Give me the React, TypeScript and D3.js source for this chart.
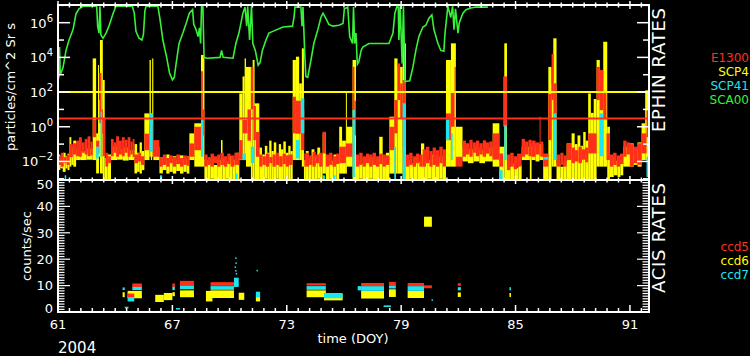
import React from "react";
import * as d3 from "d3";

// ---------- data ----------
// time axis (day of year 2004)
const xTickLabels = [61, 67, 73, 79, 85, 91];
const topExpLabels = [-2, 0, 2, 4, 6];
const botTickLabels = [0, 10, 20, 30, 40, 50];

// EPHIN threshold lines (particles/cm2 Sr s)
const yellowLimit = 100;
const redLimit = 3;

// EPHIN bands: [startDay, log10 low, log10 high] (step, holds until next day)
const e1300Log = [
  [61.0, -2.2, -1.7], [61.15, -2.3, -1.5], [61.3, -2.1, -1.75], [61.45, -2.2, -1.6],
  [61.6, -1.75, -1.0], [61.78, -1.6, -0.95],
  [61.95, -1.7, -0.8], [62.1, -1.73, -0.6], [62.25, -1.5, -0.9], [62.4, -1.6, -0.7], [62.55, -1.7, -0.55], [62.7, -1.65, -0.85],
  [62.82, -0.6, 0.4], [63.0, -1.55, -0.8], [63.17, 0.2, 3.1], [63.28, -0.4, 1.0], [63.35, -1.7, 0.5],
  [63.49, -2.3, -1.5], [63.63, -2.1, -1.7],
  [63.78, -1.7, -0.7], [63.92, -1.5, -0.9], [64.05, -1.73, -0.55], [64.2, -1.6, -0.8], [64.35, -1.7, -0.6],
  [64.5, -1.5, -0.75], [64.65, -1.73, -0.6], [64.8, -1.6, -0.85], [64.92, -1.75, -0.7],
  [65.01, -2.1, -1.6], [65.2, -2.0, -1.5], [65.35, -2.2, -1.7],
  [65.53, -1.35, -0.4], [65.8, -1.4, 0.2], [65.97, -1.73, -0.77],
  [66.32, -2.3, -1.75], [66.5, -2.2, -1.6], [66.68, -2.3, -1.8], [66.85, -2.1, -1.65], [67.02, -2.3, -1.75],
  [67.2, -2.15, -1.6], [67.4, -2.3, -1.8], [67.58, -2.2, -1.65], [67.75, -2.25, -1.7],
  [67.89, -1.73, -0.96], [68.15, -1.35, 0.0], [68.5, 0.4, 3.2], [68.6, -0.5, 1.0],
  [68.68, -2.3, -1.6], [68.85, -2.2, -1.75], [69.0, -2.3, -1.55], [69.18, -2.1, -1.7], [69.35, -2.3, -1.6],
  [69.52, -2.2, -1.5], [69.7, -2.3, -1.7], [69.88, -2.15, -1.55], [70.05, -2.3, -1.65], [70.25, -2.2, -1.5],
  [70.51, -1.9, -0.77], [70.68, -0.38, 0.39], [70.94, -0.8, 1.0], [71.12, 1.0, 3.45], [71.25, -0.77, 1.2],
  [71.38, -1.73, -0.3],
  [71.56, -2.3, -1.6], [71.73, -2.2, -1.7], [71.9, -2.3, -1.55], [72.08, -2.1, -1.75], [72.25, -2.3, -1.6],
  [72.42, -2.2, -1.5], [72.6, -2.3, -1.7], [72.78, -2.15, -1.55], [72.95, -2.3, -1.65], [73.12, -2.2, -1.6],
  [73.31, -0.38, 1.73], [73.48, -0.4, 1.5], [73.74, -1.35, 0.96], [73.92, -2.3, -1.54],
  [74.0, -2.3, -1.5], [74.17, -2.2, -1.65], [74.35, -2.3, -1.45], [74.52, -2.1, -1.6], [74.7, -2.3, -1.5],
  [74.88, -1.54, -0.29],
  [75.05, -2.3, -1.6], [75.22, -2.2, -1.5], [75.4, -2.3, -1.7], [75.58, -2.15, -1.55],
  [75.75, -2.1, -1.15], [76.1, -1.73, -0.96], [76.45, 0.96, 3.45], [76.55, -0.5, 1.5],
  [76.63, -2.3, -1.6], [76.8, -2.2, -1.5], [76.98, -2.3, -1.7], [77.15, -2.1, -1.55], [77.32, -2.3, -1.6],
  [77.5, -2.2, -1.5], [77.68, -2.3, -1.7], [77.85, -2.15, -1.55], [78.02, -2.3, -1.6], [78.2, -2.2, -1.65],
  [78.38, -1.35, 0.0], [78.64, -0.38, 1.54], [78.81, 1.54, 3.65], [78.95, 0.5, 2.5], [79.08, -1.15, 2.7],
  [79.25, -2.3, -1.6], [79.42, -2.2, -1.5], [79.6, -2.3, -1.7], [79.78, -2.1, -1.55], [79.95, -2.3, -1.6],
  [80.13, -2.3, -1.3], [80.3, -2.1, -1.15], [80.48, -2.3, -1.4], [80.65, -2.2, -1.2], [80.82, -2.3, -1.35],
  [81.0, -2.1, -1.15], [81.18, -2.3, -1.3],
  [81.35, -0.77, 0.77], [81.61, 0.0, 2.0], [81.8, 2.0, 3.45], [81.87, -2.3, -1.73],
  [82.22, -1.73, -0.8], [82.4, -1.6, -0.95], [82.58, -1.73, -0.75], [82.75, -1.5, -0.9], [82.92, -1.7, -0.8],
  [83.1, -1.6, -0.95], [83.28, -1.73, -0.78], [83.45, -1.55, -0.9], [83.62, -1.7, -0.85],
  [83.8, -1.9, -0.38], [84.15, -2.3, -1.54], [84.35, 0.0, 2.9],
  [84.55, -2.5, -1.6], [84.72, -2.3, -1.5], [84.9, -2.45, -1.7], [85.08, -2.3, -1.55],
  [85.32, -1.73, -0.7], [85.5, -1.6, -0.85], [85.68, -1.7, -0.75],
  [85.84, -1.73, -0.8], [86.05, -1.6, -0.9], [86.26, -1.7, 0.58], [86.31, -1.73, -0.85],
  [86.45, -2.3, -1.54], [86.72, -0.77, 1.9], [86.89, 1.54, 4.2], [87.0, 0.5, 2.5],
  [87.15, -2.3, -1.6], [87.35, -2.2, -1.5], [87.52, -2.3, -1.65],
  [87.68, -1.92, -0.96],
  [87.94, -2.1, -1.2], [88.12, -2.0, -1.35], [88.3, -2.1, -1.15], [88.48, -1.9, -1.3], [88.65, -2.05, -1.2],
  [88.81, -1.54, -0.38], [89.25, 1.54, 3.45], [89.42, 0.96, 3.27], [89.6, 0.5, 2.0], [89.77, -1.92, -0.38],
  [89.95, -2.3, -1.6], [90.12, -2.2, -1.5], [90.3, -2.3, -1.65], [90.48, -2.15, -1.55],
  [90.65, -1.73, -0.8], [90.82, -1.6, -0.9],
  [91.0, -2.3, -1.0], [91.2, -2.1, -1.15], [91.4, -2.2, -0.95],
  [91.61, -1.54, -0.38], [91.87, -0.6, 0.96], [92.0, null, null],
];

const scp4Log = [
  [61.0, -2.5, -1.6], [61.12, -2.4, -1.75], [61.25, -2.6, -1.5], [61.4, -2.4, -1.7], [61.5, -2.5, -1.55],
  [61.6, -2.3, -0.6], [61.7, -2.2, -1.2], [61.8, -2.3, -0.8],
  [61.95, -1.92, -1.3], [62.2, -1.92, -1.4], [62.5, -1.9, -1.25],
  [62.82, -1.92, 3.94], [63.0, -2.69, -0.38], [63.1, -2.69, 3.56], [63.15, -1.73, 1.54], [63.2, -2.69, 5.0],
  [63.35, -3.1, 2.7], [63.45, -3.1, -1.8], [63.6, -3.1, -1.6],
  [63.78, -1.92, -1.15], [64.1, -1.9, -1.3], [64.4, -1.95, -1.2], [64.7, -1.92, -1.35],
  [65.01, -2.69, -1.0], [65.15, -2.6, -1.5], [65.28, -2.7, -0.9], [65.4, -2.5, -1.4],
  [65.53, -1.92, 0.77], [65.8, -1.73, 3.85], [65.87, -1.92, 0.77], [65.94, -1.73, 3.94], [66.0, -1.92, -1.15],
  [66.32, -2.69, -1.75], [66.5, -2.5, -1.9], [66.68, -2.7, -1.6], [66.85, -2.6, -1.85], [67.02, -2.7, -1.7],
  [67.2, -2.55, -1.9], [67.4, -2.7, -1.65], [67.58, -2.6, -1.85], [67.75, -2.7, -1.7],
  [67.89, -1.92, -0.38], [68.15, -2.3, 0.2], [68.5, -2.3, 4.14],
  [68.68, -3.1, -1.9], [68.85, -3.1, -2.1], [69.0, -3.0, -1.8], [69.18, -3.1, -2.2], [69.35, -3.1, -1.9],
  [69.55, -3.1, -0.77], [69.63, -3.1, -1.8], [69.8, -3.0, -2.0], [69.98, -3.1, -1.7], [70.15, -3.1, -1.9],
  [70.32, -3.1, -1.5],
  [70.51, -1.92, 1.92], [70.68, -1.92, 2.9], [70.79, -1.92, 3.94], [70.86, -2.3, 3.45], [71.12, -3.1, 1.54],
  [71.21, -3.1, 3.85], [71.31, -3.1, 1.35],
  [71.56, -3.1, -1.2], [71.7, -3.1, -1.6], [71.85, -3.0, -1.1], [71.98, -3.1, -1.5],
  [72.08, -3.1, -0.8], [72.2, -3.1, -1.4], [72.32, -3.1, -0.9], [72.45, -3.0, -1.6], [72.58, -3.1, -1.0],
  [72.7, -3.1, -1.3], [72.82, -3.1, -0.85], [72.95, -3.0, -1.5], [73.08, -3.1, -1.1], [73.2, -3.1, -1.4],
  [73.31, -1.92, 3.85], [73.48, -1.92, 4.04], [73.65, -1.92, 2.5], [73.79, -2.3, 4.52], [73.9, -3.1, -1.92],
  [74.0, -3.1, -1.4], [74.15, -3.0, -1.8], [74.3, -3.1, -1.3], [74.45, -3.1, -1.7], [74.6, -3.0, -1.2],
  [74.75, -3.1, -1.6],
  [74.88, -2.7, -0.38],
  [75.05, -3.1, -1.75], [75.25, -3.0, -1.95], [75.45, -3.1, -1.6], [75.6, -3.1, -1.85],
  [75.75, -2.7, 0.0], [75.9, -2.7, -0.8], [76.1, -2.7, 2.0], [76.14, -2.3, 0.0], [76.45, -3.1, 3.85],
  [76.63, -3.1, -1.9], [76.8, -3.0, -2.1], [76.98, -3.1, -1.8], [77.15, -3.1, -2.05], [77.32, -3.0, -1.75],
  [77.5, -3.1, -1.95], [77.68, -3.1, -1.8],
  [77.85, -3.1, -0.58], [78.03, -3.1, -1.75], [78.2, -3.1, -1.5],
  [78.38, -2.7, 0.58], [78.64, -2.7, 3.94], [78.81, -2.7, 3.45], [79.08, -3.1, 4.81],
  [79.25, -3.1, -1.9], [79.45, -3.0, -2.1], [79.65, -3.1, -1.8], [79.85, -3.1, -2.0],
  [80.04, -3.1, -0.96],
  [80.21, -3.1, -1.75], [80.4, -3.0, -1.9], [80.6, -3.1, -1.6], [80.8, -3.1, -1.85], [81.0, -3.0, -1.7],
  [81.18, -3.1, -1.9],
  [81.35, -2.3, 3.85], [81.61, -2.3, 4.81], [81.87, -1.92, 0.0],
  [82.22, -2.0, -1.2], [82.5, -2.1, -1.3], [82.8, -2.0, -1.15], [83.1, -2.1, -1.35], [83.4, -2.0, -1.2],
  [83.8, -2.3, 0.2], [84.15, -3.1, -1.15], [84.41, -3.1, 4.81],
  [84.55, -3.1, -2.3], [84.75, -3.1, -2.1], [84.95, -3.1, -2.35], [85.15, -3.1, -2.2],
  [85.32, -1.92, -1.15], [85.75, -3.1, -1.15],
  [85.84, -1.92, -0.96], [86.05, -2.0, -1.2], [86.25, -1.92, -1.0],
  [86.45, -3.1, -1.73], [86.72, -3.1, 3.45], [86.89, -2.3, 2.5], [86.98, -2.3, 5.1],
  [87.15, -3.1, -2.1], [87.35, -3.1, -2.3], [87.52, -3.1, -2.0],
  [87.68, -3.1, -0.96],
  [87.94, -3.1, -0.38], [88.1, -3.1, -1.0], [88.25, -3.1, -0.5], [88.4, -3.1, -1.1], [88.55, -3.1, -0.3],
  [88.68, -3.1, -0.8],
  [88.81, -3.1, 1.92], [88.95, -3.1, 0.8], [89.1, -3.1, 1.6],
  [89.25, -2.3, 3.85], [89.42, -2.3, 2.9], [89.6, -2.3, 4.9], [89.81, -3.1, 0.0],
  [89.95, -2.9, -1.73], [90.15, -2.8, -1.95], [90.35, -2.9, -1.7], [90.5, -2.8, -1.9],
  [90.65, -2.3, -1.15],
  [91.0, -2.3, -0.96], [91.2, -2.2, -1.3], [91.4, -2.3, -0.9],
  [91.61, -1.92, 0.2], [91.8, -1.92, 2.1], [91.96, -1.92, 0.58], [92.0, null, null],
];

const scp41Log = [
  [61.0, -3.1, -2.7], [61.05, null, null], [61.35, -3.1, -2.8], [61.43, null, null], [63.0, -1.83, -1.15],
  [63.14, null, null], [63.23, -1.73, 0.87], [63.31, null, null], [65.8, -1.44, 0.77], [65.97, null, null],
  [66.35, -3.1, -2.8], [66.46, null, null], [68.5, -1.73, 0.39], [68.63, null, null], [70.33, -3.1, -2.7],
  [70.42, null, null], [70.68, -1.92, -1.54], [70.86, null, null], [71.12, -2.1, -1.15], [71.3, null, null],
  [73.48, -1.83, -0.77], [73.69, null, null], [73.74, -0.38, 1.64], [73.92, null, null], [74.9, -3.1, -2.8],
  [75.0, null, null], [75.45, -3.1, -2.8], [75.55, null, null], [76.45, -2.9, 0.96], [76.57, null, null],
  [78.64, -3.1, -1.15], [78.73, null, null], [79.08, -3.1, 1.35], [79.25, null, null], [81.35, -0.77, 0.39],
  [81.52, null, null], [81.61, -1.92, -0.38], [81.7, null, null], [84.15, -3.1, -2.5], [84.32, null, null],
  [84.41, -1.92, 0.1], [84.53, null, null], [86.45, -1.9, -1.75], [86.72, null, null], [86.98, -1.92, 0.77],
  [87.15, null, null], [89.42, -1.7, 0.77], [89.6, null, null], [91.87, -2.9, -1.73], [92.0, null, null],
];

// SCA00: [day, log10 rate]
const sca00Log = [
  [61.0, 2.7], [61.05, 2.9], [61.08, 4.6], [61.12, 3.0], [61.26, 3.4], [61.42, 4.4], [61.58, 5.0], [61.79, 5.6],
  [61.94, 6.5], [62.1, 6.8], [62.31, 6.95], [63.03, 6.95], [63.08, 5.8], [63.15, 5.4], [63.2, 6.95], [63.25, 5.3],
  [63.36, 5.1], [63.52, 5.4], [63.67, 5.8], [63.88, 6.5], [64.04, 6.95], [64.9, 6.95], [65.0, 6.55], [65.09, 5.5],
  [65.25, 5.1], [65.4, 5.0], [65.48, 5.3], [65.56, 6.7], [65.62, 6.95], [66.24, 6.95], [66.35, 6.2], [66.5, 5.0],
  [66.7, 4.0], [66.85, 3.1], [67.0, 2.7], [67.1, 2.85], [67.19, 3.6], [67.35, 4.8], [67.55, 5.4], [67.72, 5.95],
  [67.89, 6.55], [68.06, 6.75], [68.12, 5.9], [68.24, 5.6], [68.35, 5.2], [68.42, 5.7], [68.48, 4.8], [68.53, 6.95],
  [68.6, 6.95], [68.66, 4.0], [68.8, 3.95], [69.5, 4.0], [69.58, 4.4], [69.66, 4.0], [70.18, 3.95], [70.33, 4.8],
  [70.49, 5.4], [70.7, 6.55], [70.81, 6.9], [70.9, 5.8], [70.95, 6.95], [71.05, 5.0], [71.15, 6.95], [71.22, 4.8],
  [71.35, 4.4], [71.5, 3.55], [71.6, 3.7], [71.72, 4.4], [71.91, 5.0], [72.06, 5.4], [72.27, 5.5], [72.8, 5.75],
  [73.3, 5.8], [73.38, 6.3], [73.43, 6.9], [73.74, 6.9], [73.8, 5.8], [73.85, 6.9], [73.95, 4.0], [74.0, 2.9],
  [74.1, 2.85], [74.27, 3.85], [74.42, 4.8], [74.63, 5.6], [74.79, 6.3], [74.9, 6.55], [75.05, 6.25], [75.21, 5.9],
  [75.42, 5.8], [75.74, 5.85], [75.95, 5.95], [76.02, 6.8], [76.2, 6.9], [76.3, 5.2], [76.45, 4.8], [76.5, 6.9],
  [76.56, 4.8], [76.63, 5.4], [76.7, 3.6], [76.78, 3.75], [76.9, 4.4], [76.99, 4.6], [77.31, 4.8], [78.36, 4.8],
  [78.57, 5.4], [78.67, 6.55], [78.78, 6.95], [78.85, 6.9], [78.88, 5.0], [78.95, 6.95], [79.05, 3.65], [79.12, 6.95],
  [79.2, 2.6], [79.45, 2.65], [79.62, 3.45], [79.77, 4.4], [79.93, 5.2], [80.14, 5.75], [80.3, 5.85], [80.45, 6.25],
  [80.61, 6.45], [80.72, 5.6], [80.93, 4.8], [81.08, 4.4], [81.24, 4.35], [81.3, 5.4], [81.45, 6.95], [81.6, 6.3],
  [81.7, 6.95], [81.77, 5.6], [81.85, 6.8], [81.98, 5.4], [82.05, 6.0], [82.24, 6.55], [82.4, 6.75], [82.66, 6.85],
  [82.92, 6.9], [83.55, 6.9],
];

// ACIS clusters: [startDay, endDay, low, high] counts/sec
const ccd5 = [
  [64.65, 65.0, 5.6, 7.0], [64.9, 65.4, 9.5, 10.8], [67.0, 67.13, 9.5, 10.8], [67.4, 68.13, 10.2, 11.8],
  [69.0, 70.23, 9.9, 11.3], [74.04, 75.05, 10.0, 10.9], [76.9, 78.1, 9.8, 11.0], [78.36, 78.72, 10.1, 11.4],
  [79.34, 80.2, 9.8, 11.0], [80.2, 80.61, 9.0, 10.1], [81.97, 82.13, 9.9, 10.9],
  [71.5, 71.62, 0, 0.4], [75.09, 75.88, 0, 0.4],
];
const ccd6 = [
  [64.39, 64.5, 5.6, 7.5], [64.65, 65.4, 5.2, 8.0], [66.1, 66.55, 3.8, 6.5], [66.55, 67.0, 4.5, 7.2],
  [67.0, 67.13, 6.0, 7.5], [67.4, 68.13, 5.6, 8.2], [68.76, 69.1, 4.0, 8.0], [69.0, 70.23, 5.3, 8.2],
  [70.48, 70.77, 4.6, 7.3], [71.38, 71.6, 4.0, 6.5], [74.04, 75.05, 5.6, 8.2], [74.95, 75.93, 4.4, 6.8],
  [76.9, 78.1, 5.1, 8.0], [78.36, 78.72, 5.7, 8.6], [79.34, 80.2, 5.3, 8.0], [80.2, 80.61, 32.3, 36.1],
  [81.97, 82.13, 5.7, 7.4], [84.68, 84.74, 5.7, 7.2],
];
const ccd7 = [
  [64.39, 64.5, 8.3, 9.3], [64.5, 64.7, 1.4, 2.0], [64.65, 65.0, 4.0, 6.0], [64.9, 65.4, 8.3, 9.7],
  [67.0, 67.13, 8.3, 9.7], [67.19, 67.4, 1.0, 1.5], [67.4, 68.13, 8.6, 10.1], [69.0, 70.23, 8.4, 9.8],
  [70.23, 70.48, 9.5, 13.0], [71.38, 71.6, 5.5, 7.7], [74.04, 75.05, 8.4, 9.8], [74.95, 75.93, 5.2, 7.2],
  [76.72, 76.9, 8.2, 9.8], [76.9, 78.1, 8.0, 9.8], [78.08, 78.46, 1.9, 2.5], [78.36, 78.72, 8.9, 10.1],
  [79.34, 80.2, 8.0, 9.8], [81.97, 82.13, 8.2, 9.4], [84.68, 84.74, 8.2, 9.4],
  [63.48, 64.39, 0, 0.4], [66.14, 67.0, 0, 0.4], [68.66, 69.0, 0, 0.4],
];
const ccd7Dots = [
  [70.33, 20.4], [70.34, 18.5], [70.3, 17.0], [70.33, 15.6], [70.36, 14.5], [71.45, 15.7], [80.63, 4.5],
];

// ---------- colours ----------
const RED = "#ff3018";
const YELLOW = "#ffff00";
const CYAN = "#1ee6f0";
const GREEN = "#38f038";
const WHITE = "#ffffff";
const FONT = "DejaVu Sans, sans-serif";

export default function App() {
  const x = d3.scaleLinear().domain([61, 92]).range([58, 649]);
  const yTop = d3.scaleLog().domain([Math.pow(10, -3.07), Math.pow(10, 7.02)]).range([180, 5]);
  const yBot = d3.scaleLinear().domain([0, 50]).range([312, 180]);
  const yl = (v: number) => yTop(Math.pow(10, v));

  const bandRects = (data: any[], color: string, key: string) => {
    const out: any[] = [];
    for (let i = 0; i < data.length - 1; i++) {
      const [d, lo, hi] = data[i];
      if (lo === null) continue;
      const xa = x(d);
      const xb = x(data[i + 1][0]);
      const ya = yl(hi);
      const yb = yl(lo);
      out.push(
        <rect key={key + i} x={xa} y={ya} width={Math.max(1, xb - xa)} height={Math.max(1, yb - ya)} fill={color} />
      );
    }
    return out;
  };

  const clusterRects = (data: any[], color: string, key: string) =>
    data.map((c, i) => {
      const [a, b, lo, hi] = c;
      return (
        <rect key={key + i} x={x(a)} y={yBot(hi)} width={Math.max(1.5, x(b) - x(a))}
          height={Math.max(1.5, yBot(lo) - yBot(hi))} fill={color} />
      );
    });

  const greenLine = d3.line<any>().x((d) => x(d[0])).y((d) => yl(d[1]))(sca00Log as any) || "";

  const minorX = d3.range(61, 92.001, 0.6);
  const majorX = xTickLabels;
  const decades = d3.range(-3, 8);
  const botMinor = d3.range(0, 51, 1);

  return (
    <svg width={750} height={356} style={{ position: "absolute", left: 0, top: 0, background: "#000" }}
      fontFamily={FONT}>
      <rect x={0} y={0} width={750} height={356} fill="#000" />
      <defs>
        <clipPath id="topClip"><rect x={58} y={5} width={591} height={175} /></clipPath>
        <clipPath id="botClip"><rect x={58} y={180} width={591} height={132} /></clipPath>
      </defs>

      {/* top panel data */}
      <g clipPath="url(#topClip)">
        {bandRects(scp4Log, YELLOW, "y")}
        {bandRects(e1300Log, RED, "r")}
        {bandRects(scp41Log, CYAN, "c")}
        <line x1={58} x2={649} y1={yTop(yellowLimit)} y2={yTop(yellowLimit)} stroke={YELLOW} strokeWidth={2} />
        <line x1={58} x2={649} y1={yTop(redLimit)} y2={yTop(redLimit)} stroke={RED} strokeWidth={2} />
        <path d={greenLine} fill="none" stroke={GREEN} strokeWidth={1.6} />
      </g>

      {/* bottom panel data */}
      <g clipPath="url(#botClip)">
        {clusterRects(ccd6, YELLOW, "b6")}
        {clusterRects(ccd7, CYAN, "b7")}
        {clusterRects(ccd5, RED, "b5")}
        {ccd7Dots.map((p, i) => (
          <rect key={"d" + i} x={x(p[0]) - 0.75} y={yBot(p[1]) - 0.75} width={1.5} height={1.5} fill={CYAN} />
        ))}
      </g>

      {/* frames */}
      <g stroke={WHITE} strokeWidth={2} fill="none">
        <rect x={58} y={5} width={591} height={175} />
        <rect x={58} y={180} width={591} height={132} />
      </g>

      {/* x ticks */}
      <g stroke={WHITE} strokeWidth={1.5}>
        {minorX.map((v, i) => {
          const isMajor = majorX.some((m) => Math.abs(m - v) < 1e-6);
          const xx = x(v);
          const a = isMajor ? 4 : 2.5;
          return (
            <g key={"xt" + i}>
              <line x1={xx} x2={xx} y1={5 - a} y2={5 + a} />
              <line x1={xx} x2={xx} y1={180 - a} y2={180 + a} />
              <line x1={xx} x2={xx} y1={312} y2={312 - (isMajor ? 7 : 4)} />
            </g>
          );
        })}
      </g>

      {/* top y ticks */}
      <g stroke={WHITE} strokeWidth={1.5}>
        {decades.map((e) => {
          const yy = yl(e);
          if (yy < 5 || yy > 180) return null;
          const len = e % 2 === 0 ? 12 : 6;
          return (
            <g key={"yt" + e}>
              <line x1={58} x2={58 + len} y1={yy} y2={yy} />
              <line x1={649 - len} x2={649} y1={yy} y2={yy} />
            </g>
          );
        })}
      </g>

      {/* bottom y ticks */}
      <g stroke={WHITE} strokeWidth={1.2}>
        {botMinor.map((v) => {
          const yy = yBot(v);
          const len = v % 10 === 0 ? 12 : 6.5;
          return (
            <g key={"bt" + v}>
              <line x1={58} x2={58 + len} y1={yy} y2={yy} />
              <line x1={649 - len} x2={649} y1={yy} y2={yy} />
            </g>
          );
        })}
      </g>

      {/* tick labels */}
      <g fill={WHITE} fontSize={13}>
        {topExpLabels.map((e) => (
          <text key={"tl" + e} x={53} y={yl(e) + 5} textAnchor="end">
            10<tspan dy={-6} fontSize={10}>{e < 0 ? "\u2212" + Math.abs(e) : String(e)}</tspan>
          </text>
        ))}
        {botTickLabels.map((v) => {
          const c = Math.min(308, Math.max(184, yBot(v)));
          return (
            <text key={"bl" + v} x={53} y={c + 4.7} textAnchor="end">{v}</text>
          );
        })}
        {xTickLabels.map((v) => (
          <text key={"xl" + v} x={x(v)} y={329} textAnchor="middle">{v}</text>
        ))}
        <text x={353} y={343} textAnchor="middle">time (DOY)</text>
      </g>
      <text x={58} y={353} fill={WHITE} fontSize={15}>2004</text>

      {/* axis titles */}
      <text transform="translate(10,87) rotate(-90)" textAnchor="middle" dy="0.35em" fill={WHITE} fontSize={13}>
        particles/cm^2 Sr s
      </text>
      <text transform="translate(26,246) rotate(-90)" textAnchor="middle" dy="0.35em" fill={WHITE} fontSize={13}>
        counts/sec
      </text>
      <text transform="translate(659,70) rotate(-90)" textAnchor="middle" dy="0.35em" fill={WHITE} fontSize={18}
        textLength={124} lengthAdjust="spacing">
        EPHIN RATES
      </text>
      <text transform="translate(659,238) rotate(-90)" textAnchor="middle" dy="0.35em" fill={WHITE} fontSize={18}
        textLength={110} lengthAdjust="spacing">
        ACIS RATES
      </text>

      {/* legends */}
      <g fontSize={12} textAnchor="end">
        <text x={749} y={61.5} fill={RED}>E1300</text>
        <text x={749} y={75.5} fill={YELLOW}>SCP4</text>
        <text x={749} y={89.5} fill={CYAN}>SCP41</text>
        <text x={749} y={103.5} fill={GREEN}>SCA00</text>
        <text x={749} y={251} fill={RED}>ccd5</text>
        <text x={749} y={264.5} fill={YELLOW}>ccd6</text>
        <text x={749} y={278.5} fill={CYAN}>ccd7</text>
      </g>
    </svg>
  );
}
